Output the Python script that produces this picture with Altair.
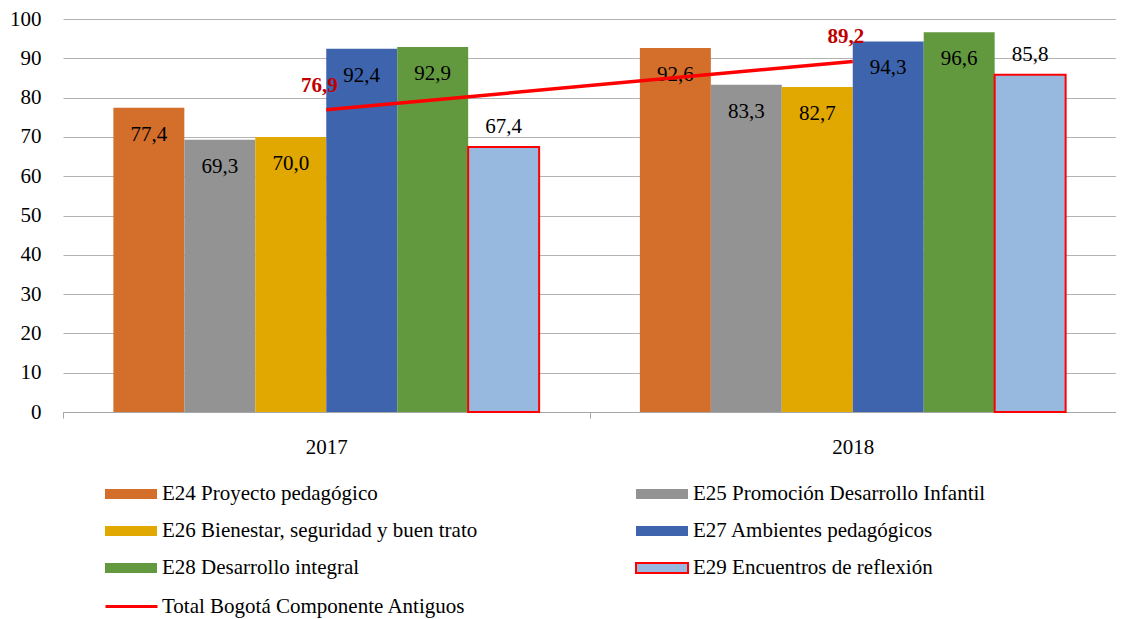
import altair as alt
import pandas as pd

years = ["2017", "2018"]
series = [
    "E24 Proyecto pedagógico",
    "E25 Promoción Desarrollo Infantil",
    "E26 Bienestar, seguridad y buen trato",
    "E27 Ambientes pedagógicos",
    "E28 Desarrollo integral",
    "E29 Encuentros de reflexión",
]
values_2017 = [77.4, 69.3, 70.0, 92.4, 92.9, 67.4]
values_2018 = [92.6, 83.3, 82.7, 94.3, 96.6, 85.8]
total_name = "Total Bogotá Componente Antiguos"
total_values = [76.9, 89.2]
y_ticks = [0, 10, 20, 30, 40, 50, 60, 70, 80, 90, 100]

colors = ["#D36E2B", "#939393", "#E0A800", "#3D64AC", "#62993E", "#97B8DF"]
strokes = ["transparent", "transparent", "transparent", "transparent", "transparent", "#FF0000"]

FONT = "Liberation Serif"

rows = []
for yr, vals in zip(years, [values_2017, values_2018]):
    for s, v in zip(series, vals):
        rows.append({"year": yr, "serie": s, "value": v,
                     "label": f"{v:.1f}".replace(".", ",")})
bars_df = pd.DataFrame(rows)
total_df = pd.DataFrame({"year": years, "serie": [total_name] * 2, "value": total_values,
                         "label": [f"{v:.1f}".replace(".", ",") for v in total_values]})

# legend is filled column by column: order so that it reads row by row
legend_order = [0, 2, 4, 1, 3, 5]
leg_domain = [series[i] for i in legend_order]
leg_fill = [colors[i] for i in legend_order]
leg_stroke = [strokes[i] for i in legend_order]

x_axis = alt.Axis(title=None, labelAngle=0, tickBand="extent", tickSize=6,
                  tickColor="#A6A6A6", domainColor="#A6A6A6", labelPadding=18,
                  labelFont=FONT, labelFontSize=21, labelColor="black", grid=False)
y_axis = alt.Axis(title=None, values=y_ticks, ticks=False, domain=False,
                  labelOverlap=False, labelFlush=False,
                  labelPadding=22, labelFont=FONT, labelFontSize=21, labelColor="black",
                  gridColor="#B3B3B3", gridWidth=1)
x_scale = alt.Scale(paddingInner=0, paddingOuter=0)
y_scale = alt.Scale(domain=[0, 100], nice=False)


def X():
    return alt.X("year:N", sort=years, scale=x_scale, axis=x_axis)


def Y():
    return alt.Y("value:Q", scale=y_scale, axis=y_axis)


def XO():
    return alt.XOffset("serie:N", sort=series,
                       scale=alt.Scale(domain=series, paddingInner=0, paddingOuter=0.71))


bar_path = "M-1,-0.19L1,-0.19L1,0.19L-1,0.19Z"
bar_legend = alt.Legend(title=None, orient="none", legendX=41, legendY=448, columns=2,
                        columnPadding=154, rowPadding=-15.5, symbolType=bar_path, symbolSize=2704,
                        symbolStrokeWidth=2, labelFont=FONT, labelFontSize=21, labelColor="black",
                        labelOffset=4, labelLimit=500, padding=0)

bars = alt.Chart(bars_df).mark_bar(strokeWidth=2).encode(
    x=X(), xOffset=XO(), y=Y(),
    fill=alt.Fill("serie:N", scale=alt.Scale(domain=leg_domain, range=leg_fill), legend=bar_legend),
    stroke=alt.Stroke("serie:N", scale=alt.Scale(domain=leg_domain, range=leg_stroke), legend=bar_legend),
)

inside = alt.Chart(bars_df).transform_filter(
    alt.datum.serie != series[5]
).mark_text(font=FONT, fontSize=21, color="black", dy=27, baseline="middle").encode(
    x=X(), xOffset=XO(), y=Y(), text="label:N")

outside = alt.Chart(bars_df).transform_filter(
    alt.datum.serie == series[5]
).mark_text(font=FONT, fontSize=21, color="black", dy=-20, baseline="middle").encode(
    x=X(), xOffset=XO(), y=Y(), text="label:N")

line_path = "M-1,0L1,0"
line = alt.Chart(total_df).mark_line(strokeWidth=3.5).encode(
    x=X(), y=Y(),
    color=alt.Color("serie:N", scale=alt.Scale(domain=[total_name], range=["#FF0000"]),
                    legend=alt.Legend(title=None, orient="none", legendX=41, legendY=560,
                                      symbolType=line_path, symbolSize=2704, symbolStrokeWidth=3,
                                      labelFont=FONT, labelFontSize=21, labelColor="black",
                                      labelOffset=3, labelLimit=500, padding=0)),
)

total_text = alt.Chart(total_df).mark_text(font=FONT, fontSize=21, fontWeight="bold",
                                           color="#C00000", dx=-7, dy=-24, baseline="middle").encode(
    x=X(), y=Y(), text="label:N")

chart = alt.layer(bars, inside, outside, line, total_text).properties(
    width=1053, height=393,
    autosize=alt.AutoSizeParams(type="none"),
    padding={"left": 55, "top": 11, "right": 0, "bottom": 206},
).configure_view(stroke=None)

chart.save("out.html", embed_options={"renderer": "svg", "actions": False})
